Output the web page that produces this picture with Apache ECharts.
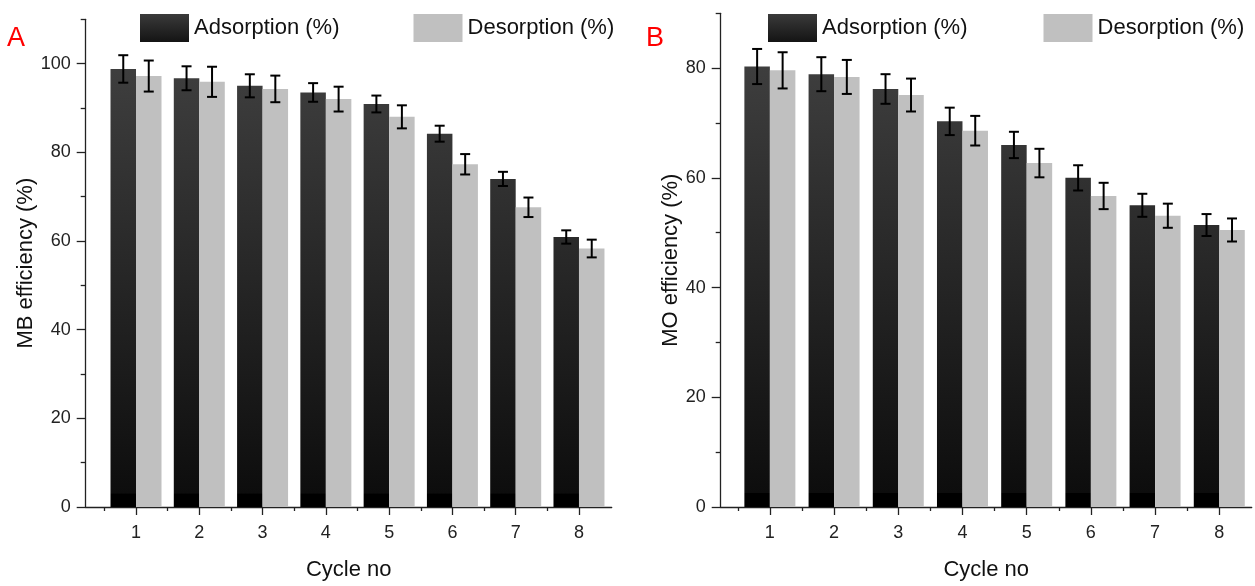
<!DOCTYPE html>
<html>
<head>
<meta charset="utf-8">
<script src="https://cdn.jsdelivr.net/npm/echarts@6/dist/echarts.min.js"></script>
<style>
  html, body { margin: 0; padding: 0; background: #fff; }
  #main { width: 1255px; height: 586px; }
</style>
</head>
<body>
<div id="main"></div>
<script>
// values
const cycles = [1, 2, 3, 4, 5, 6, 7, 8];
const halfTicks = [0.5, 1.5, 2.5, 3.5, 4.5, 5.5, 6.5, 7.5];

const mbAdsorption = [98.8, 96.7, 95.0, 93.5, 90.9, 84.2, 74.0, 60.9];
const mbAdsorptionErr = [3.1, 2.7, 2.6, 2.1, 1.9, 1.8, 1.6, 1.5];
const mbDesorption = [97.2, 95.9, 94.3, 92.0, 88.0, 77.3, 67.6, 58.3];
const mbDesorptionErr = [3.5, 3.4, 3.0, 2.8, 2.6, 2.3, 2.2, 2.0];

const moAdsorption = [80.3, 78.9, 76.2, 70.3, 66.0, 60.0, 55.0, 51.4];
const moAdsorptionErr = [3.2, 3.1, 2.7, 2.5, 2.4, 2.3, 2.1, 2.0];
const moDesorption = [79.6, 78.4, 75.1, 68.6, 62.7, 56.7, 53.1, 50.5];
const moDesorptionErr = [3.3, 3.1, 3.0, 2.7, 2.6, 2.4, 2.2, 2.1];

const mbMajor = [0, 20, 40, 60, 80, 100];
const mbMinor = [10, 30, 50, 70, 90, 110];
const moMajor = [0, 20, 40, 60, 80];
const moMinor = [10, 30, 50, 70, 90];

// no narrow face installed, so sizes are picked to match the reference text widths
const FONT = "'Liberation Sans', Arial, sans-serif";
const BAR_W = 25.5;
const AX = '#222';

const chart = echarts.init(document.getElementById('main'), null, { renderer: 'canvas' });

function pairs(vals) {
  return cycles.map((c, i) => [c, vals[i]]);
}
function triples(vals, errs) {
  return cycles.map((c, i) => [c, vals[i], errs[i]]);
}

// dark bars: shaded from grey at top to black, with a black foot
function darkFill(top, bottom) {
  const foot = (bottom - 16 - top) / (bottom - top);
  return new echarts.graphic.LinearGradient(0, top, 0, bottom, [
    { offset: 0, color: '#444444' },
    { offset: foot, color: '#0d0d0d' },
    { offset: foot + 0.001, color: '#000000' },
    { offset: 1, color: '#000000' }
  ], true);
}
const legendDark = new echarts.graphic.LinearGradient(0, 0, 0, 1, [
  { offset: 0, color: '#3a3a3a' },
  { offset: 1, color: '#141414' }
]);

function errorBars(shift) {
  return function (params, api) {
    const x = api.value(0), y = api.value(1), e = api.value(2);
    const hi = api.coord([x, y + e]);
    const lo = api.coord([x, y - e]);
    const cx = hi[0] + shift;
    const st = { stroke: '#000', lineWidth: 2 };
    return {
      type: 'group',
      children: [
        { type: 'line', shape: { x1: cx, y1: hi[1], x2: cx, y2: lo[1] }, style: st },
        { type: 'line', shape: { x1: cx - 5, y1: hi[1], x2: cx + 5, y2: hi[1] }, style: st },
        { type: 'line', shape: { x1: cx - 5, y1: lo[1], x2: cx + 5, y2: lo[1] }, style: st }
      ]
    };
  };
}

function xAxes(grid, min, max) {
  return [
    {
      type: 'value', gridIndex: grid, min: min, max: max, position: 'bottom',
      axisLine: { show: true, onZero: false, lineStyle: { color: AX, width: 1.3 } },
      axisTick: { show: true, customValues: cycles, length: 8, lineStyle: { color: AX, width: 1.3 } },
      axisLabel: { customValues: cycles, margin: 17, color: '#222', fontSize: 18, fontFamily: FONT },
      splitLine: { show: false },
      name: 'Cycle no', nameLocation: 'middle', nameGap: 52,
      nameTextStyle: { fontSize: 22, color: '#111', fontFamily: FONT }
    },
    {
      type: 'value', gridIndex: grid, min: min, max: max, position: 'bottom',
      axisLine: { show: false },
      axisTick: { show: true, customValues: halfTicks, length: 4, lineStyle: { color: AX, width: 1.3 } },
      axisLabel: { show: false },
      splitLine: { show: false }
    }
  ];
}

function yAxes(grid, max, major, minor, name, gap) {
  return [
    {
      type: 'value', gridIndex: grid, min: 0, max: max, position: 'left',
      axisLine: { show: true, lineStyle: { color: AX, width: 1.3 } },
      axisTick: { show: true, customValues: major, length: 9, lineStyle: { color: AX, width: 1.3 } },
      axisLabel: { customValues: major, margin: 15, color: '#222', fontSize: 18, fontFamily: FONT },
      splitLine: { show: false },
      name: name, nameLocation: 'middle', nameGap: gap,
      nameTextStyle: { fontSize: 22, color: '#111', fontFamily: FONT }
    },
    {
      type: 'value', gridIndex: grid, min: 0, max: max, position: 'left',
      axisLine: { show: false },
      axisTick: { show: true, customValues: minor, length: 5, lineStyle: { color: AX, width: 1.3 } },
      axisLabel: { show: false },
      splitLine: { show: false }
    }
  ];
}

function panelSeries(ax, ads, adsErr, des, desErr, fill) {
  return [
    {
      name: 'Adsorption (%)', type: 'bar', xAxisIndex: ax, yAxisIndex: ax,
      barWidth: BAR_W, barGap: '0%', itemStyle: { color: fill },
      data: pairs(ads)
    },
    {
      name: 'Desorption (%)', type: 'bar', xAxisIndex: ax, yAxisIndex: ax,
      barWidth: BAR_W, barGap: '0%', itemStyle: { color: '#c0c0c0' },
      data: pairs(des)
    },
    {
      type: 'custom', xAxisIndex: ax, yAxisIndex: ax, z: 10,
      renderItem: errorBars(-BAR_W / 2), data: triples(ads, adsErr)
    },
    {
      type: 'custom', xAxisIndex: ax, yAxisIndex: ax, z: 10,
      renderItem: errorBars(BAR_W / 2), data: triples(des, desErr)
    }
  ];
}

function legendFor(left, gap) {
  return {
    left: left, top: 14, width: 490, padding: 0, orient: 'horizontal', itemGap: gap,
    itemWidth: 49, itemHeight: 28, icon: 'rect',
    textStyle: { fontSize: 22, color: '#111', fontFamily: FONT },
    data: [
      { name: 'Adsorption (%)', itemStyle: { color: legendDark } },
      { name: 'Desorption (%)', itemStyle: { color: '#c0c0c0' } }
    ],
    selectedMode: false
  };
}

chart.setOption({
  animation: false,
  backgroundColor: '#fff',
  grid: [
    { left: 85.7, right: 643.3, top: 19.3, bottom: 76.7 },
    { left: 720.7, right: 3.3, top: 13.3, bottom: 77.3 }
  ],
  legend: [legendFor(140, 74), legendFor(768, 76)],
  xAxis: [].concat(xAxes(0, 0.205, 8.517), xAxes(1, 0.234, 8.505)),
  yAxis: [].concat(
    yAxes(0, 110, mbMajor, mbMinor, 'MB efficiency (%)', 43),
    yAxes(1, 90, moMajor, moMinor, 'MO efficiency (%)', 34)
  ),
  graphic: [
    { type: 'text', left: 7, top: 25, style: { text: 'A', fontSize: 27, fill: '#ff0000', fontFamily: FONT } },
    { type: 'text', left: 646, top: 25, style: { text: 'B', fontSize: 27, fill: '#ff0000', fontFamily: FONT } }
  ],
  series: [].concat(
    panelSeries(0, mbAdsorption, mbAdsorptionErr, mbDesorption, mbDesorptionErr, darkFill(19.3, 509.3)),
    panelSeries(2, moAdsorption, moAdsorptionErr, moDesorption, moDesorptionErr, darkFill(13.3, 508.7))
  )
});
</script>
</body>
</html>
